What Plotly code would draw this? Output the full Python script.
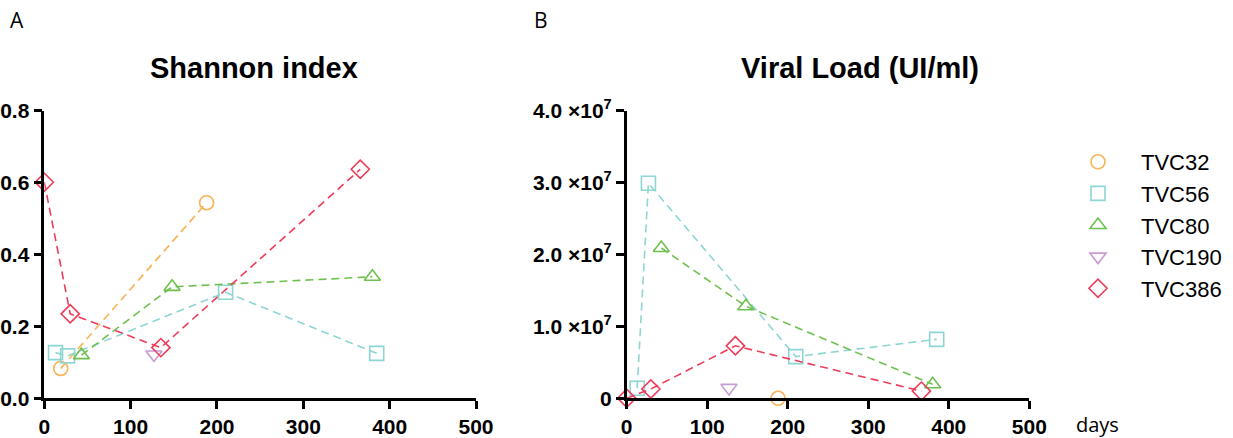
import plotly.graph_objects as go

# ---- data ----
series_names = ["TVC32", "TVC56", "TVC80", "TVC190", "TVC386"]

# Shannon index (panel A)
shannon_days = {
    "TVC32": [19, 188],
    "TVC56": [13, 27, 210, 385],
    "TVC80": [43, 148, 380],
    "TVC190": [127],
    "TVC386": [0, 30, 135, 366],
}
shannon_vals = {
    "TVC32": [0.083, 0.544],
    "TVC56": [0.127, 0.118, 0.295, 0.125],
    "TVC80": [0.120, 0.310, 0.338],
    "TVC190": [0.122],
    "TVC386": [0.601, 0.235, 0.141, 0.637],
}

# Viral load (panel B)
viral_days = {
    "TVC32": [188],
    "TVC56": [13, 27, 210, 385],
    "TVC80": [43, 148, 380],
    "TVC190": [127],
    "TVC386": [0, 30, 135, 366],
}
viral_vals = {
    "TVC32": [0],
    "TVC56": [1.4e6, 2.99e7, 5.8e6, 8.2e6],
    "TVC80": [2.09e7, 1.28e7, 1.95e6],
    "TVC190": [1.45e6],
    "TVC386": [0, 1.3e6, 7.3e6, 1.0e6],
}

x_ticks = [0, 100, 200, 300, 400, 500]
shannon_ticks = [0.0, 0.2, 0.4, 0.6, 0.8]
shannon_ticktext = ["0.0", "0.2", "0.4", "0.6", "0.8"]
viral_ticks = [0, 1e7, 2e7, 3e7, 4e7]
viral_ticktext = ["0", "1.0 ×10<sup>7</sup>", "2.0 ×10<sup>7</sup>",
                  "3.0 ×10<sup>7</sup>", "4.0 ×10<sup>7</sup>"]

# ---- styles ----
colors = {
    "TVC32": "#F9B256",
    "TVC56": "#8ED6D3",
    "TVC80": "#6FC04F",
    "TVC190": "#C79BD3",
    "TVC386": "#EE3D5A",
}
symbols = {
    "TVC32": "circle-open",
    "TVC56": "square-open",
    "TVC80": "triangle-up-open",
    "TVC190": "triangle-down-open",
    "TVC386": "diamond-open",
}

W, H = 1233, 438


def px(x):
    return x / W


def py(y):
    return 1 - y / H


fig = go.Figure()

for name in series_names:
    for (days, vals, xa, ya) in [
        (shannon_days, shannon_vals, "x", "y"),
        (viral_days, viral_vals, "x2", "y2"),
    ]:
        fig.add_trace(go.Scatter(
            x=days[name], y=vals[name], xaxis=xa, yaxis=ya,
            mode="lines+markers", name=name, legendgroup=name,
            showlegend=False, cliponaxis=False,
            line=dict(color=colors[name], width=1.6, dash="8px,5px"),
            marker=dict(symbol=symbols[name], size=14, color=colors[name],
                        line=dict(width=1.6, color=colors[name])),
        ))
    # legend entry (markers only, like the reference)
    fig.add_trace(go.Scatter(
        x=[None], y=[None], xaxis="x", yaxis="y", mode="markers",
        name=name, legendgroup=name, showlegend=True,
        marker=dict(symbol=symbols[name], size=14, color=colors[name],
                    line=dict(width=1.6, color=colors[name])),
    ))

axis_common = dict(
    showgrid=False, zeroline=False, showline=True, linecolor="black",
    linewidth=2.5, ticks="outside", ticklen=8, tickwidth=2.5, tickcolor="black",
    automargin=False,
    tickfont=dict(family="Liberation Sans, Arial", size=21, color="black", weight="bold"),
)

ydom = [py(398.3), py(110.7)]

fig.update_layout(
    width=W, height=H,
    margin=dict(l=0, r=0, t=0, b=0, autoexpand=False),
    paper_bgcolor="white", plot_bgcolor="white",
    xaxis=dict(domain=[px(44.3), px(476)], range=[0, 500], tickvals=x_ticks,
               anchor="y", **axis_common),
    yaxis=dict(domain=ydom, range=[0, 0.8], tickvals=shannon_ticks,
               ticktext=shannon_ticktext, anchor="x", **axis_common),
    xaxis2=dict(domain=[px(626.7), px(1029.3)], range=[0, 500], tickvals=x_ticks,
                anchor="y2", **axis_common),
    yaxis2=dict(domain=ydom, range=[0, 4e7], tickvals=viral_ticks,
                ticktext=viral_ticktext, anchor="x2", **axis_common),
    legend=dict(x=px(1055), y=py(141), xanchor="left", yanchor="top",
                font=dict(family="Liberation Sans, Arial", size=22, color="black"),
                itemwidth=76,
                tracegroupgap=9, traceorder="normal", bgcolor="rgba(0,0,0,0)"),
    showlegend=True,
)

annotations = [
    dict(text="<b>Shannon index</b>", x=px(254), y=py(68),
         font=dict(family="Liberation Sans, Arial", size=29, color="black")),
    dict(text="<b>Viral Load (UI/ml)</b>", x=px(860), y=py(68),
         font=dict(family="Liberation Sans, Arial", size=29, color="black")),
    dict(text="A", x=px(17), y=py(20),
         font=dict(family="Open Sans", size=21, color="black")),
    dict(text="B", x=px(541), y=py(20),
         font=dict(family="Open Sans", size=21, color="black")),
    dict(text="days", x=px(1097), y=py(424),
         font=dict(family="Open Sans", size=20, color="black")),
]
for a in annotations:
    fig.add_annotation(xref="paper", yref="paper", showarrow=False,
                       xanchor="center", yanchor="middle", **a)

fig.write_html(
    "out.html",
    config={"displayModeBar": False},
    post_script="document.body.style.margin='0';document.body.style.overflow='hidden';",
)
